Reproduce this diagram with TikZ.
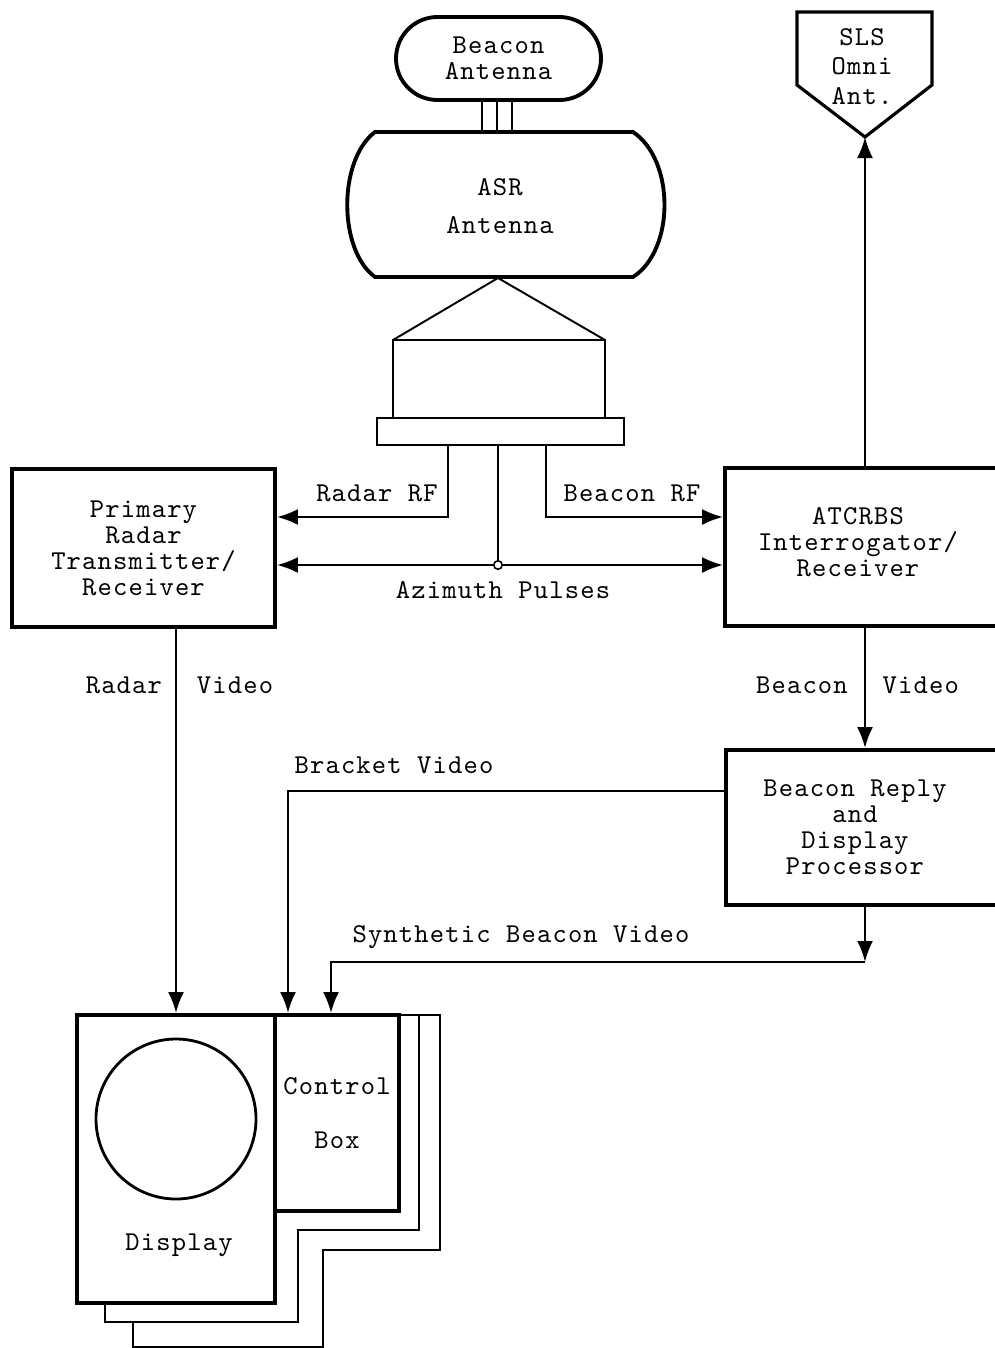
\documentclass[tikz,border=0pt]{standalone}
\usepackage{fontspec}
\setmainfont{lmmono10-regular.otf}[LetterSpace=4.3]
\usetikzlibrary{arrows.meta}
\begin{document}
\begin{tikzpicture}[
  line/.style={draw=black,line width=1.4pt},
  heavy/.style={draw=black,line width=2.2pt},
  box/.style={heavy,fill=white,inner sep=2pt,align=center,font=\fontsize{15.5}{14.8}\selectfont},
  txt/.style={font=\fontsize{15.5}{14.8}\selectfont,align=center,inner sep=1pt},
  arr/.style={line,-{Latex[length=4.2mm,width=3.2mm]}},
  junc/.style={circle,draw,line width=0.9pt,fill=white,inner sep=0pt,minimum size=0.17cm},
]
\useasboundingbox (0,0) rectangle (19.9,-26.96);
\clip (0,0) rectangle (19.9,-26.96);
% antennas
\node[box,rounded corners=0.83cm,minimum width=4.1cm,minimum height=1.66cm] (bant) at (9.97,-1.17) {Beacon\\Antenna};
\draw[heavy] (7.5,-2.64) -- (12.66,-2.64) .. controls (13.5,-3.2) and (13.5,-5.0) .. (12.66,-5.54)
  -- (7.5,-5.54) .. controls (6.76,-5.0) and (6.76,-3.2) .. (7.5,-2.64) -- cycle;
\node[txt] (asr) at (10,-4.12) {ASR\\[0.23cm]Antenna};
\foreach \x in {9.64,9.94,10.24}{\draw[line,line width=1.1pt] (bant.south -| \x,0) -- (\x,-2.64);}
\draw[line,line width=1.1pt] (7.86,-6.8) -- (9.96,-5.56) -- (12.1,-6.8);
\draw[line,line width=1.1pt] (7.86,-6.8) rectangle (12.1,-8.36);
\node[line,line width=1.1pt,minimum width=4.94cm,minimum height=0.54cm,inner sep=0pt] (plate) at (10.01,-8.63) {};
\draw[heavy,line width=1.8pt] (15.94,-0.24) -- (18.64,-0.24) -- (18.64,-1.7) -- (17.3,-2.74) -- (15.94,-1.7) -- cycle;
\coordinate (sls) at (17.3,-2.74);
\node[txt,align=center] (slstxt) at (17.24,-1.34) {SLS\\[0.06cm]Omni\\[0.08cm]Ant.};
% boxes
\node[box,minimum width=5.26cm,minimum height=3.16cm] (prim) at (2.87,-10.96) {Primary\\Radar\\Transmitter/\\Receiver};
\node[box,minimum width=5.7cm,minimum height=3.16cm] (atc) at (17.35,-10.94) {};
\node[txt] (atctxt) at (17.16,-10.84) {ATCRBS\\Interrogator/\\Receiver};
\node[box,minimum width=5.7cm,minimum height=3.1cm] (reply) at (17.37,-16.55) {};
\node[txt] (replytxt) at (17.1,-16.54) {Beacon Reply\\and\\Display\\Processor};
% display stack
\draw[line,line width=1.6pt,fill=white] (2.66,-20.3) -- (8.8,-20.3) -- (8.8,-25.0) -- (6.46,-25.0) -- (6.46,-26.94) -- (2.66,-26.94) -- cycle;
\draw[line,line width=1.6pt,fill=white] (2.1,-20.3) -- (8.38,-20.3) -- (8.38,-24.6) -- (5.96,-24.6) -- (5.96,-26.44) -- (2.1,-26.44) -- cycle;
\node[box,minimum width=3.96cm,minimum height=5.76cm] (disp) at (3.52,-23.18) {};
\node[box,minimum width=2.48cm,minimum height=3.92cm] (ctl) at (6.74,-22.26) {Control\\[0.55cm]Box};
\node[draw,circle,line width=1.6pt,minimum size=3.2cm] (crt) at (3.52,-22.38) {};
\node[txt] (disptxt) at (3.58,-24.9) {Display};
% rf and pulses
\coordinate (rrf) at (8.96,-10.34);
\coordinate (brf) at (10.92,-10.34);
\node[junc] (az) at (9.96,-11.3) {};
\draw[arr] (plate.south -| rrf) |- (prim.east |- rrf);
\draw[arr] (plate.south -| brf) |- (atc.west |- brf);
\draw[line] (plate.south -| az) -- (az);
\draw[arr] (az) -- (prim.east |- az);
\draw[arr] (az) -- (atc.west |- az);
\node[txt] (rrflbl) at (7.54,-9.86) {Radar RF};
\node[txt] (brflbl) at (12.64,-9.86) {Beacon RF};
\node[txt] (azlbl) at (10.06,-11.8) {Azimuth Pulses};
% video
\coordinate (bv) at (17.3,-19.24);
\coordinate (brk) at (5.76,-15.82);
\coordinate (syn) at (6.62,-19.24);
\draw[arr] (atc.north -| sls) -- (sls);
\draw[arr] (atc.south -| bv) -- (reply.north -| bv);
\draw[arr] (prim.south -| disp.north) -- (disp.north);
\draw[arr] (reply.west |- brk) -| (brk |- ctl.north);
\draw[arr] (reply.south -| bv) -- (bv);
\draw[arr] (bv) -| (syn |- ctl.north);
\node[txt] (rvidlbl) at (3.59,-13.7) {Radar\hspace{0.7cm}Video};
\node[txt] (bvidlbl) at (17.15,-13.7) {Beacon\hspace{0.7cm}Video};
\node[txt] (brklbl) at (7.88,-15.3) {Bracket Video};
\node[txt] (synlbl) at (10.42,-18.74) {Synthetic Beacon Video};
\end{tikzpicture}
\end{document}
